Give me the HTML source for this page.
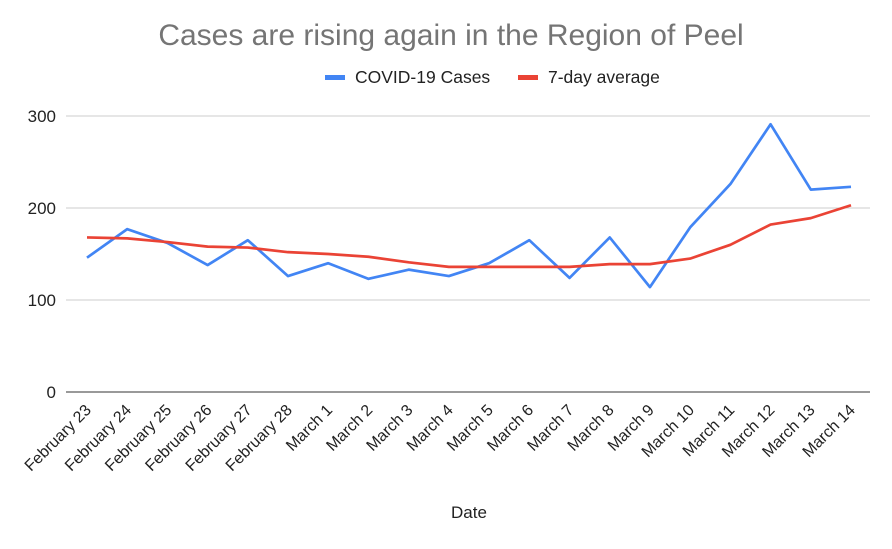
<!DOCTYPE html>
<html><head><meta charset="utf-8"><style>
body{margin:0;background:#fff;font-family:"Liberation Sans",Arial,sans-serif}
svg text{font-family:"Liberation Sans",Arial,sans-serif}
</style></head><body>
<svg id="chart" width="892" height="544">
<rect width="892" height="544" fill="#fff"/>
<text x="451" y="45" text-anchor="middle" font-size="30" fill="#757575">Cases are rising again in the Region of Peel</text>
<g>
<g><rect x="325" y="75" width="20" height="5" fill="#4285f4"/><text x="355" y="83" font-size="17.5" fill="#222">COVID-19 Cases</text></g>
<g><rect x="518" y="75" width="20" height="5" fill="#ea4335"/><text x="548" y="83" font-size="17.5" fill="#222">7-day average</text></g>
</g>
<g id="grid"></g><g id="xlabels"></g><g id="lines"></g>
<text x="469" y="518" text-anchor="middle" font-size="17" fill="#222">Date</text>
</svg>
<script>
const categories=["February 23","February 24","February 25","February 26","February 27","February 28","March 1","March 2","March 3","March 4","March 5","March 6","March 7","March 8","March 9","March 10","March 11","March 12","March 13","March 14"];
const cases=[146,177,162,138,165,126,140,123,133,126,140,165,124,168,114,179,226,291,220,223];
const average=[168,167,163,158,157,152,150,147,141,136,136,136,136,139,139,145,160,182,189,203];
const yTicks=[0,100,200,300];
const NS="http://www.w3.org/2000/svg";
const x0=87,dx=(851-87)/19,yBase=392,yScale=0.92;
const xs=i=>x0+i*dx, ys=v=>yBase-v*yScale;
function mk(t,a){const e=document.createElementNS(NS,t);for(const k in a)e.setAttribute(k,a[k]);return e;}
const grid=document.getElementById('grid');
yTicks.forEach(v=>{
 const l=mk('line',{x1:66,x2:870,y1:ys(v),y2:ys(v),stroke:v===0?'#333':'#ccc','stroke-width':1});
 
 
 grid.appendChild(l);
 const t=mk('text',{x:56,y:ys(v)+6,'text-anchor':'end','font-size':17,fill:'#222'});
 t.textContent=v;
 
 
 grid.appendChild(t);
});
const xl=document.getElementById('xlabels');
categories.forEach((c,i)=>{
 const t=mk('text',{x:xs(i)+5,y:411,'text-anchor':'end','font-size':16,fill:'#222',transform:`rotate(-45 ${xs(i)+5} 411)`});
 t.textContent=c;
 
 
 xl.appendChild(t);
});
const lines=document.getElementById('lines');
[[cases,'#4285f4','cases-line'],[average,'#ea4335','average-line']].forEach(([d,col,n])=>{
 const p=mk('polyline',{points:d.map((v,i)=>xs(i)+','+ys(v)).join(' '),fill:'none',stroke:col,'stroke-width':2.7,'stroke-linejoin':'round'});
 
 
 lines.appendChild(p);
});
</script>
</body></html>
